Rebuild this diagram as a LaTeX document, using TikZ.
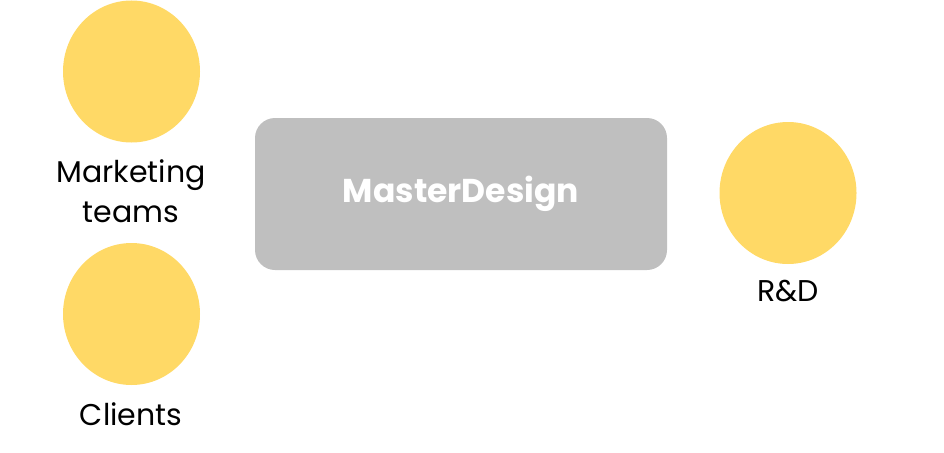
\documentclass[tikz,border=0pt]{standalone}
\usepackage{fontspec}
\setmainfont{Poppins}
\usetikzlibrary{shapes.geometric}
\definecolor{circ}{HTML}{FFD966}
\definecolor{boxg}{HTML}{BFBFBF}
\begin{document}
\begin{tikzpicture}[x=1pt,y=-1pt,
  person/.style={ellipse,fill=circ,minimum width=137pt,minimum height=142pt,inner sep=0pt},
  lbl/.style={font=\fontsize{30}{40}\selectfont,align=center,text=black},
  mainbox/.style={rectangle,rounded corners=20pt,fill=boxg,minimum width=412pt,minimum height=152pt,text=white,font=\fontsize{33}{34}\selectfont\bfseries}]
\useasboundingbox (0,0) rectangle (944,452);
\node[person] (mk) at (131.5,71.5) {};
\node[person] (cl) at (131.5,314) {};
\node[person] (rd) at (788,193) {};
\node[mainbox] (md) at (461,194) {MasterDesign};
\node[lbl] (mkl) at (131,191) {Marketing\\teams};
\node[lbl] (cll) at (131,414) {Clients};
\node[lbl] (rdl) at (788,291) {R\&D};
\end{tikzpicture}
\end{document}
